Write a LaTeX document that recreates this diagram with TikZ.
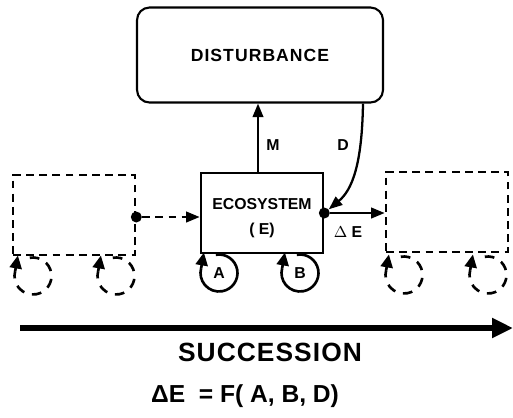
\documentclass[tikz,border=0pt]{standalone}
\usepackage{fontspec}
\setmainfont{Liberation Sans}
\usetikzlibrary{arrows.meta}

\begin{document}
\begin{tikzpicture}[x=0.02cm, y=0.02cm,
  box/.style={draw, line width=1.5pt, minimum width=2.44cm, minimum height=1.6cm},
  ghost/.style={box, dash pattern=on 4.5pt off 3pt},
  tip/.style={-{Triangle[length=2.7mm, width=2.1mm]}},
  wtip/.style={line width=1.5pt, -{Triangle[length=2.6mm, width=2.4mm]}},
  dot/.style={circle, fill, inner sep=0pt, minimum size=2.2mm},
  wheel/.style={line width=1.5pt},
  ghostwheel/.style={wheel, dash pattern=on 5.5pt off 4.5pt},
  lbl/.style={font=\bfseries\fontsize{9}{10}\selectfont},
  big/.style={font=\bfseries\fontsize{15}{17}\selectfont}
]
\useasboundingbox (0, 0) rectangle (513, -417);

% disturbance
\node [draw, line width=1.2pt, rounded corners=0.25cm, minimum width=4.92cm,
  minimum height=1.9cm, font=\bfseries\fontsize{10}{12}\selectfont] (dist) at (260, -55) {\addfontfeature{LetterSpace=6}DISTURBANCE};

% ecosystem and the two ghost states
\node [box] (eco) at (262, -213) {};
\node [font=\bfseries\fontsize{9}{10}\selectfont, align=center] (ecotxt) at (262, -218) {ECOSYSTEM\\[4pt]( E)};
\node [ghost] (prev) at (74, -215) {};
\node [ghost] (next) at (447, -212) {};

\node [dot] (pdot) at (prev.east |- 0, -217) {};
\node [dot] (edot) at (eco.east) {};

\draw [line width=1.3pt, tip] ([xshift=-0.08cm]eco.north) -- ([xshift=-0.08cm]eco.north |- dist.south);
\draw [line width=1.3pt, tip] (dist.south -| 363, 0) .. controls (362, -165) and (352, -190) .. (edot);
\draw [line width=1.3pt, tip] (edot) -- (next.west |- edot);
\draw [line width=1.3pt, dash pattern=on 4.5pt off 3pt, tip] (pdot) -- (eco.west |- pdot);

\node [lbl] (m) at (273, -145) {M};
\node [lbl] (d) at (343, -145) {D};
\node [lbl] (de) at (348, -232) {$\Delta$ E};

% wheels
\node [lbl] (wa) at (219, -273) {A};
\node [lbl] (wb) at (300, -273) {B};
\draw [wheel] (wa.center) ++(100:18.5) arc [start angle=100, end angle=-195, radius=18.5] coordinate (ea);
\draw [wtip] (ea) -- ++(80:16);
\draw [wheel] (wb.center) ++(100:18.5) arc [start angle=100, end angle=-195, radius=18.5] coordinate (eb);
\draw [wtip] (eb) -- ++(80:16);

\coordinate (w1) at (33, -276);
\coordinate (w2) at (116, -276);
\coordinate (w3) at (404, -275);
\coordinate (w4) at (488, -275);
\draw [ghostwheel] (w1) ++(100:18.5) arc [start angle=100, end angle=-195, radius=18.5] coordinate (e1);
\draw [wtip] (e1) -- ++(80:16);
\draw [ghostwheel] (w2) ++(100:18.5) arc [start angle=100, end angle=-195, radius=18.5] coordinate (e2);
\draw [wtip] (e2) -- ++(80:16);
\draw [ghostwheel] (w3) ++(100:18.5) arc [start angle=100, end angle=-195, radius=18.5] coordinate (e3);
\draw [wtip] (e3) -- ++(80:16);
\draw [ghostwheel] (w4) ++(100:18.5) arc [start angle=100, end angle=-195, radius=18.5] coordinate (e4);
\draw [wtip] (e4) -- ++(80:16);

% time axis
\coordinate (s0) at (20, -328);
\coordinate (s1) at (513, -328);
\draw [line width=3.2pt, -{Triangle[length=4.2mm, width=3.8mm]}] (s0) -- (s1);

\node [big] (succ) at (270, -352) {\addfontfeature{LetterSpace=4}SUCCESSION};
\node [font=\bfseries\fontsize{14}{16}\selectfont] (law) at (245, -396) {ΔE\ \ = F( A, B, D)};
\end{tikzpicture}
\end{document}
